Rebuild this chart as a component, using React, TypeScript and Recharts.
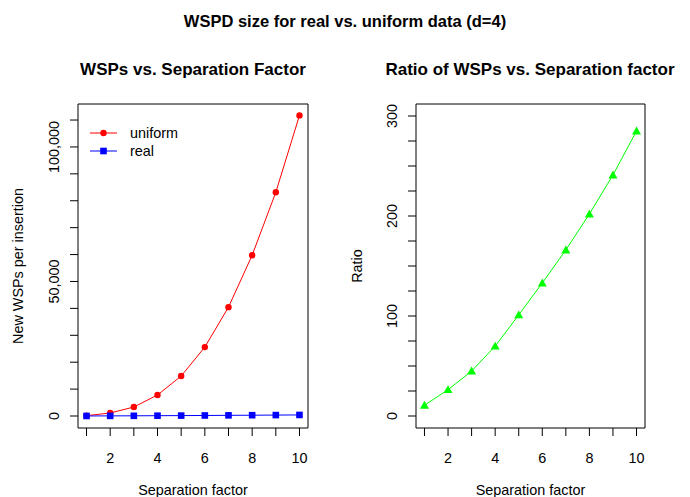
import React from 'react';
import { LineChart, Line, XAxis, YAxis, ReferenceArea } from 'recharts';

const FONT = '"Liberation Sans", Arial, Helvetica, sans-serif';

const factors = [1, 2, 3, 4, 5, 6, 7, 8, 9, 10];
const uniformWsps = [130, 1110, 3340, 7800, 14850, 25610, 40460, 59760, 83150, 111730];
const realWsps = [12, 43, 74, 111, 147, 193, 244, 296, 345, 392];
const ratios = [10.7, 26.3, 44.9, 69.8, 101.1, 133, 166, 202, 241, 285];

const xTicks = [1, 2, 3, 4, 5, 6, 7, 8, 9, 10];
const wspTicks = [0, 10000, 20000, 30000, 40000, 50000, 60000, 70000, 80000, 90000, 100000, 110000];
const ratioTicks = [0, 25, 50, 75, 100, 125, 150, 175, 200, 225, 250, 275, 300];

const wspData = factors.map((f, i) => ({ x: f, uniform: uniformWsps[i], real: realWsps[i] }));
const ratioData = factors.map((f, i) => ({ x: f, ratio: ratios[i] }));

const X_DOMAIN: [number, number] = [0.64, 10.36];
const WSP_DOMAIN: [number, number] = [-4460, 115960];
const RATIO_DOMAIN: [number, number] = [-12, 312];

const XTick = ({ x, y, payload }: any) => {
  if (payload.value % 2 !== 0) return <g />;
  return (
    <text x={x} y={y + 19} textAnchor="middle" fontSize={14.4} fill="#000" fontFamily={FONT}>
      {payload.value}
    </text>
  );
};

const makeYTick = (step: number) => ({ x, y, payload }: any) => {
  if (payload.value % step !== 0) return <g />;
  return (
    <text
      x={x}
      y={y}
      transform={`rotate(-90, ${x}, ${y})`}
      textAnchor="middle"
      dominantBaseline="central"
      fontSize={14.4}
      fill="#000"
      fontFamily={FONT}
    >
      {payload.value.toLocaleString('en-US')}
    </text>
  );
};

const yLabel = (text: string, dx: number) => ({ viewBox }: any) => {
  const cx = viewBox.x + dx;
  const cy = viewBox.y + viewBox.height / 2;
  return (
    <text
      x={cx}
      y={cy}
      transform={`rotate(-90, ${cx}, ${cy})`}
      textAnchor="middle"
      dominantBaseline="central"
      fontSize={14.4}
      fill="#000"
      fontFamily={FONT}
    >
      {text}
    </text>
  );
};

const Triangle = ({ cx, cy }: any) => {
  if (cx == null || cy == null) return <g />;
  const r = 4.5;
  return (
    <polygon
      points={`${cx},${cy - r} ${cx - r},${cy + r * 0.75} ${cx + r},${cy + r * 0.75}`}
      fill="#00FF00"
    />
  );
};

const Square = ({ cx, cy }: any) => {
  if (cx == null || cy == null) return <g />;
  return <rect x={cx - 3.3} y={cy - 3.3} width={6.6} height={6.6} fill="#0000FF" />;
};

const axisText = { fontSize: 14.4, fill: '#000', fontFamily: FONT };

export default function App() {
  return (
    <div style={{ position: 'absolute', left: 0, top: 0, width: 690, height: 497, background: '#fff', fontFamily: FONT }}>
      <div style={{ position: 'absolute', left: 0, top: 0 }}>
        <LineChart width={345} height={497} data={wspData} margin={{ top: 104, right: 37, left: 8, bottom: 0 }}>
          <XAxis
            dataKey="x"
            type="number"
            domain={X_DOMAIN}
            ticks={xTicks}
            interval={0}
            allowDataOverflow
            axisLine={false}
            tickLine={{ stroke: '#000' }}
            tickSize={8}
            tickMargin={8}
            height={69}
            tick={<XTick />}
            label={{ value: 'Separation factor', position: 'insideBottom', offset: 2, ...axisText }}
          />
          <YAxis
            type="number"
            domain={WSP_DOMAIN}
            ticks={wspTicks}
            interval={0}
            allowDataOverflow
            axisLine={false}
            tickLine={{ stroke: '#000' }}
            tickSize={8}
            tickMargin={16}
            width={70}
            tick={makeYTick(50000)}
            label={{ content: yLabel('New WSPs per insertion', 10) }}
          />
          <ReferenceArea x1={X_DOMAIN[0]} x2={X_DOMAIN[1]} y1={WSP_DOMAIN[0]} y2={WSP_DOMAIN[1]} fill="none" stroke="#000" strokeWidth={1} fillOpacity={0} />
          <Line type="linear" dataKey="uniform" stroke="#FF0000" strokeWidth={1} dot={{ r: 3.2, fill: '#FF0000', stroke: 'none' }} isAnimationActive={false} />
          <Line type="linear" dataKey="real" stroke="#0000FF" strokeWidth={1} dot={<Square />} isAnimationActive={false} />
        </LineChart>
      </div>
      <div style={{ position: 'absolute', left: 345, top: 0 }}>
        <LineChart width={345} height={497} data={ratioData} margin={{ top: 104, right: 45, left: 0, bottom: 0 }}>
          <XAxis
            dataKey="x"
            type="number"
            domain={X_DOMAIN}
            ticks={xTicks}
            interval={0}
            allowDataOverflow
            axisLine={false}
            tickLine={{ stroke: '#000' }}
            tickSize={8}
            tickMargin={8}
            height={69}
            tick={<XTick />}
            label={{ value: 'Separation factor', position: 'insideBottom', offset: 2, ...axisText }}
          />
          <YAxis
            type="number"
            domain={RATIO_DOMAIN}
            ticks={ratioTicks}
            interval={0}
            allowDataOverflow
            axisLine={false}
            tickLine={{ stroke: '#000' }}
            tickSize={8}
            tickMargin={16}
            width={71}
            tick={makeYTick(100)}
            label={{ content: yLabel('Ratio', 12) }}
          />
          <ReferenceArea x1={X_DOMAIN[0]} x2={X_DOMAIN[1]} y1={RATIO_DOMAIN[0]} y2={RATIO_DOMAIN[1]} fill="none" stroke="#000" strokeWidth={1} fillOpacity={0} />
          <Line type="linear" dataKey="ratio" stroke="#00FF00" strokeWidth={1} dot={<Triangle />} isAnimationActive={false} />
        </LineChart>
      </div>
      <svg width={690} height={497} style={{ position: 'absolute', left: 0, top: 0, pointerEvents: 'none' }}>
        <text x={345} y={27} textAnchor="middle" fontSize={16.5} fontWeight="bold" fontFamily={FONT} fill="#000">
          WSPD size for real vs. uniform data (d=4)
        </text>
        <text x={193} y={75} textAnchor="middle" fontSize={17} fontWeight="bold" fontFamily={FONT} fill="#000">
          WSPs vs. Separation Factor
        </text>
        <text x={530} y={75} textAnchor="middle" fontSize={17} fontWeight="bold" fontFamily={FONT} fill="#000">
          Ratio of WSPs vs. Separation factor
        </text>
        <line x1={90} y1={133} x2={117} y2={133} stroke="#FF0000" strokeWidth={1} />
        <circle cx={103.5} cy={133} r={3.2} fill="#FF0000" />
        <text x={130} y={138} fontSize={14.4} fontFamily={FONT} fill="#000">uniform</text>
        <line x1={90} y1={151} x2={117} y2={151} stroke="#0000FF" strokeWidth={1} />
        <rect x={100.2} y={147.7} width={6.6} height={6.6} fill="#0000FF" />
        <text x={130} y={156} fontSize={14.4} fontFamily={FONT} fill="#000">real</text>
      </svg>
    </div>
  );
}
